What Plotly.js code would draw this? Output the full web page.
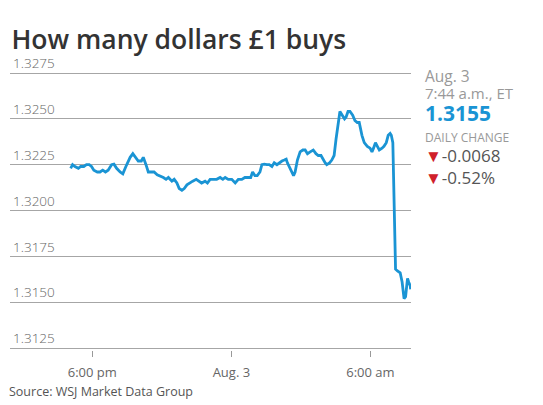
<!DOCTYPE html>
<html>
<head>
<meta charset="utf-8">
<script src="https://cdn.plot.ly/plotly-3.0.1.min.js"></script>
<style>
html,body{margin:0;padding:0;background:#fff;}
#chart{width:543px;height:405px;}
</style>
</head>
<body>
<div id="chart"></div>
<script>
const times = [
'2017-08-02 17:04','2017-08-02 17:09','2017-08-02 17:15','2017-08-02 17:24','2017-08-02 17:30','2017-08-02 17:38','2017-08-02 17:45','2017-08-02 17:52','2017-08-02 17:58',
'2017-08-02 18:04','2017-08-02 18:13','2017-08-02 18:20','2017-08-02 18:27','2017-08-02 18:34','2017-08-02 18:41','2017-08-02 18:50','2017-08-02 18:56',
'2017-08-02 19:03','2017-08-02 19:12','2017-08-02 19:19','2017-08-02 19:27','2017-08-02 19:38','2017-08-02 19:45','2017-08-02 19:53','2017-08-02 19:59',
'2017-08-02 20:07','2017-08-02 20:12','2017-08-02 20:19','2017-08-02 20:25','2017-08-02 20:34','2017-08-02 20:40','2017-08-02 20:48','2017-08-02 20:55',
'2017-08-02 21:04','2017-08-02 21:11','2017-08-02 21:17','2017-08-02 21:26','2017-08-02 21:32','2017-08-02 21:39','2017-08-02 21:45','2017-08-02 21:52','2017-08-02 21:58',
'2017-08-02 22:05','2017-08-02 22:11','2017-08-02 22:20','2017-08-02 22:29','2017-08-02 22:35','2017-08-02 22:43','2017-08-02 22:52','2017-08-02 22:58',
'2017-08-02 23:05','2017-08-02 23:13','2017-08-02 23:22','2017-08-02 23:31','2017-08-02 23:38','2017-08-02 23:44','2017-08-02 23:52',
'2017-08-03 00:01','2017-08-03 00:10','2017-08-03 00:18','2017-08-03 00:27','2017-08-03 00:35','2017-08-03 00:44','2017-08-03 00:50','2017-08-03 00:55',
'2017-08-03 01:01','2017-08-03 01:07','2017-08-03 01:14','2017-08-03 01:19','2017-08-03 01:25','2017-08-03 01:32','2017-08-03 01:38','2017-08-03 01:45','2017-08-03 01:51','2017-08-03 01:58',
'2017-08-03 02:04','2017-08-03 02:11','2017-08-03 02:17','2017-08-03 02:22','2017-08-03 02:25','2017-08-03 02:27','2017-08-03 02:34','2017-08-03 02:41','2017-08-03 02:45','2017-08-03 02:51','2017-08-03 02:58',
'2017-08-03 03:05','2017-08-03 03:11','2017-08-03 03:17','2017-08-03 03:24','2017-08-03 03:32','2017-08-03 03:39','2017-08-03 03:45','2017-08-03 03:52','2017-08-03 03:57',
'2017-08-03 04:03','2017-08-03 04:07','2017-08-03 04:14','2017-08-03 04:20','2017-08-03 04:26','2017-08-03 04:31','2017-08-03 04:37','2017-08-03 04:41','2017-08-03 04:47','2017-08-03 04:53','2017-08-03 04:57',
'2017-08-03 05:02','2017-08-03 05:07','2017-08-03 05:14','2017-08-03 05:20','2017-08-03 05:26','2017-08-03 05:31','2017-08-03 05:38','2017-08-03 05:44','2017-08-03 05:52','2017-08-03 05:59',
'2017-08-03 06:04','2017-08-03 06:08','2017-08-03 06:13','2017-08-03 06:18','2017-08-03 06:23','2017-08-03 06:30','2017-08-03 06:35','2017-08-03 06:41','2017-08-03 06:46','2017-08-03 06:51','2017-08-03 06:54','2017-08-03 06:58',
'2017-08-03 07:00','2017-08-03 07:01','2017-08-03 07:02','2017-08-03 07:05','2017-08-03 07:10','2017-08-03 07:17','2017-08-03 07:22','2017-08-03 07:27','2017-08-03 07:31','2017-08-03 07:36','2017-08-03 07:39','2017-08-03 07:43','2017-08-03 07:44'
];
const rates = [
1.3223,1.3225,1.3224,1.3223,1.3224,1.3224,1.3225,1.3225,1.3224,
1.3222,1.3221,1.3221,1.3222,1.3221,1.3222,1.3225,1.32253,
1.3223,1.3221,1.3220,1.3224,1.3229,1.3231,1.3229,1.3227,
1.3227,1.3229,1.3225,1.3221,1.3221,1.3221,1.32195,1.3219,
1.3218,1.3217,1.3218,1.3216,1.3217,1.3215,1.3212,1.3211,1.3212,
1.3214,1.3215,1.3216,1.3217,1.3216,1.3215,1.3216,1.3215,
1.3217,1.3217,1.3217,1.3218,1.3217,1.3218,1.3217,
1.3217,1.3215,1.3217,1.3217,1.3218,1.3218,1.3218,1.3221,
1.3219,1.3219,1.3221,1.3225,1.32253,1.3225,1.3225,1.3224,1.3226,1.3225,
1.3226,1.3227,1.32275,1.3228,1.3226,1.3225,1.3222,1.3219,1.3221,1.32275,1.3232,
1.3233,1.3233,1.3231,1.3232,1.3233,1.3231,1.3230,1.3230,1.3228,
1.3226,1.3225,1.3226,1.32275,1.3230,1.3239,1.3248,1.3254,1.3252,1.3250,1.3251,
1.3254,1.3254,1.3252,1.3249,1.3248,1.3248,1.3241,1.3237,1.3235,1.3234,
1.3232,1.3234,1.3237,1.3235,1.3233,1.3234,1.3235,1.3237,1.3241,1.3242,1.3241,1.3237,
1.3211,1.3201,1.3184,1.3168,1.3167,1.3166,1.3161,1.3152,1.3153,1.3163,1.3161,1.3159,1.3157
];
const yTicks = [1.3125,1.3150,1.3175,1.3200,1.3225,1.3250,1.3275];
const yTickText = ['1.3125','1.3150','1.3175','1.3200','1.3225','1.3250','1.3275'];
const xTicks = ['2017-08-02 18:00','2017-08-03 00:00','2017-08-03 06:00'];
const xTickText = ['6:00 pm','Aug. 3','6:00 am'];
const titleText = 'How many dollars £1 buys';
const sourceText = 'Source: WSJ Market Data Group';
const panelDate = 'Aug. 3';
const panelTime = '7:44 a.m., ET';
const lastRate = '1.3155';
const changeLabel = 'DAILY CHANGE';
const changeAbs = '-0.0068';
const changePct = '-0.52%';

const FONT = 'Open Sans, Lato, sans-serif';
const tri = '<span style="color:#d0202a">▼</span>';

// plot area: 1.3125 gridline at y=348, 1.3275 at y=73 (275px); pad 2px each side
const pxPerUnit = 275 / 0.015;
const padU = 2 / pxPerUnit;
const PX = (x) => (x - 10) / 401;          // page x -> paper x
const PY = (y) => (350 - y) / 279;          // page y -> paper y

function ann(x, y, text, size, color) {
  return {xref: 'paper', yref: 'paper', x: PX(x), y: PY(y), xanchor: 'left', yanchor: 'middle',
          showarrow: false, borderpad: 0, text: text, font: {family: FONT, size: size, color: color}};
}

Plotly.newPlot('chart', [{
  x: times, y: rates, type: 'scatter', mode: 'lines',
  line: {color: '#1a94d4', width: 2.8},
  hoverinfo: 'skip'
}], {
  width: 543, height: 405,
  margin: {l: 10, r: 132, t: 71, b: 55},
  paper_bgcolor: '#fff', plot_bgcolor: '#fff',
  showlegend: false,
  title: {text: titleText, x: 0.021, xanchor: 'left', xref: 'container', y: 0.902, yanchor: 'middle', yref: 'container',
          font: {family: FONT, size: 26.5, color: '#333', weight: 600}},
  xaxis: {
    type: 'date', range: ['2017-08-02 14:27', '2017-08-03 07:45'],
    tickvals: xTicks, ticktext: xTickText,
    showgrid: false, zeroline: false, showline: false,
    ticks: 'outside', ticklen: 6, tickcolor: '#999', tickwidth: 1,
    ticklabelstandoff: 4,
    tickfont: {family: FONT, size: 13, color: '#666'}
  },
  yaxis: {
    range: [1.3125 - padU, 1.3275 + padU],
    tickvals: yTicks, ticktext: yTickText,
    ticklabelposition: 'inside top',
    ticklabeloverflow: 'allow',
    showgrid: true, gridcolor: '#a6a6a6', gridwidth: 1,
    zeroline: false, showline: false, ticks: '',
    tickfont: {family: FONT, size: 13.5, color: '#666', weight: 300}
  },
  annotations: [
    ann(424, 76, panelDate, 15.5, '#999'),
    ann(424, 92.5, panelTime, 15, '#999'),
    ann(424, 112.5, '<b>' + lastRate + '</b>', 21, '#1a94d4'),
    ann(424, 137, changeLabel, 12, '#999'),
    ann(424, 155, tri + changeAbs, 17, '#555'),
    ann(424, 177.5, tri + changePct, 17, '#555'),
    ann(8, 391, sourceText, 12.5, '#555')
  ]
}, {staticPlot: true, displayModeBar: false});
</script>
</body>
</html>
